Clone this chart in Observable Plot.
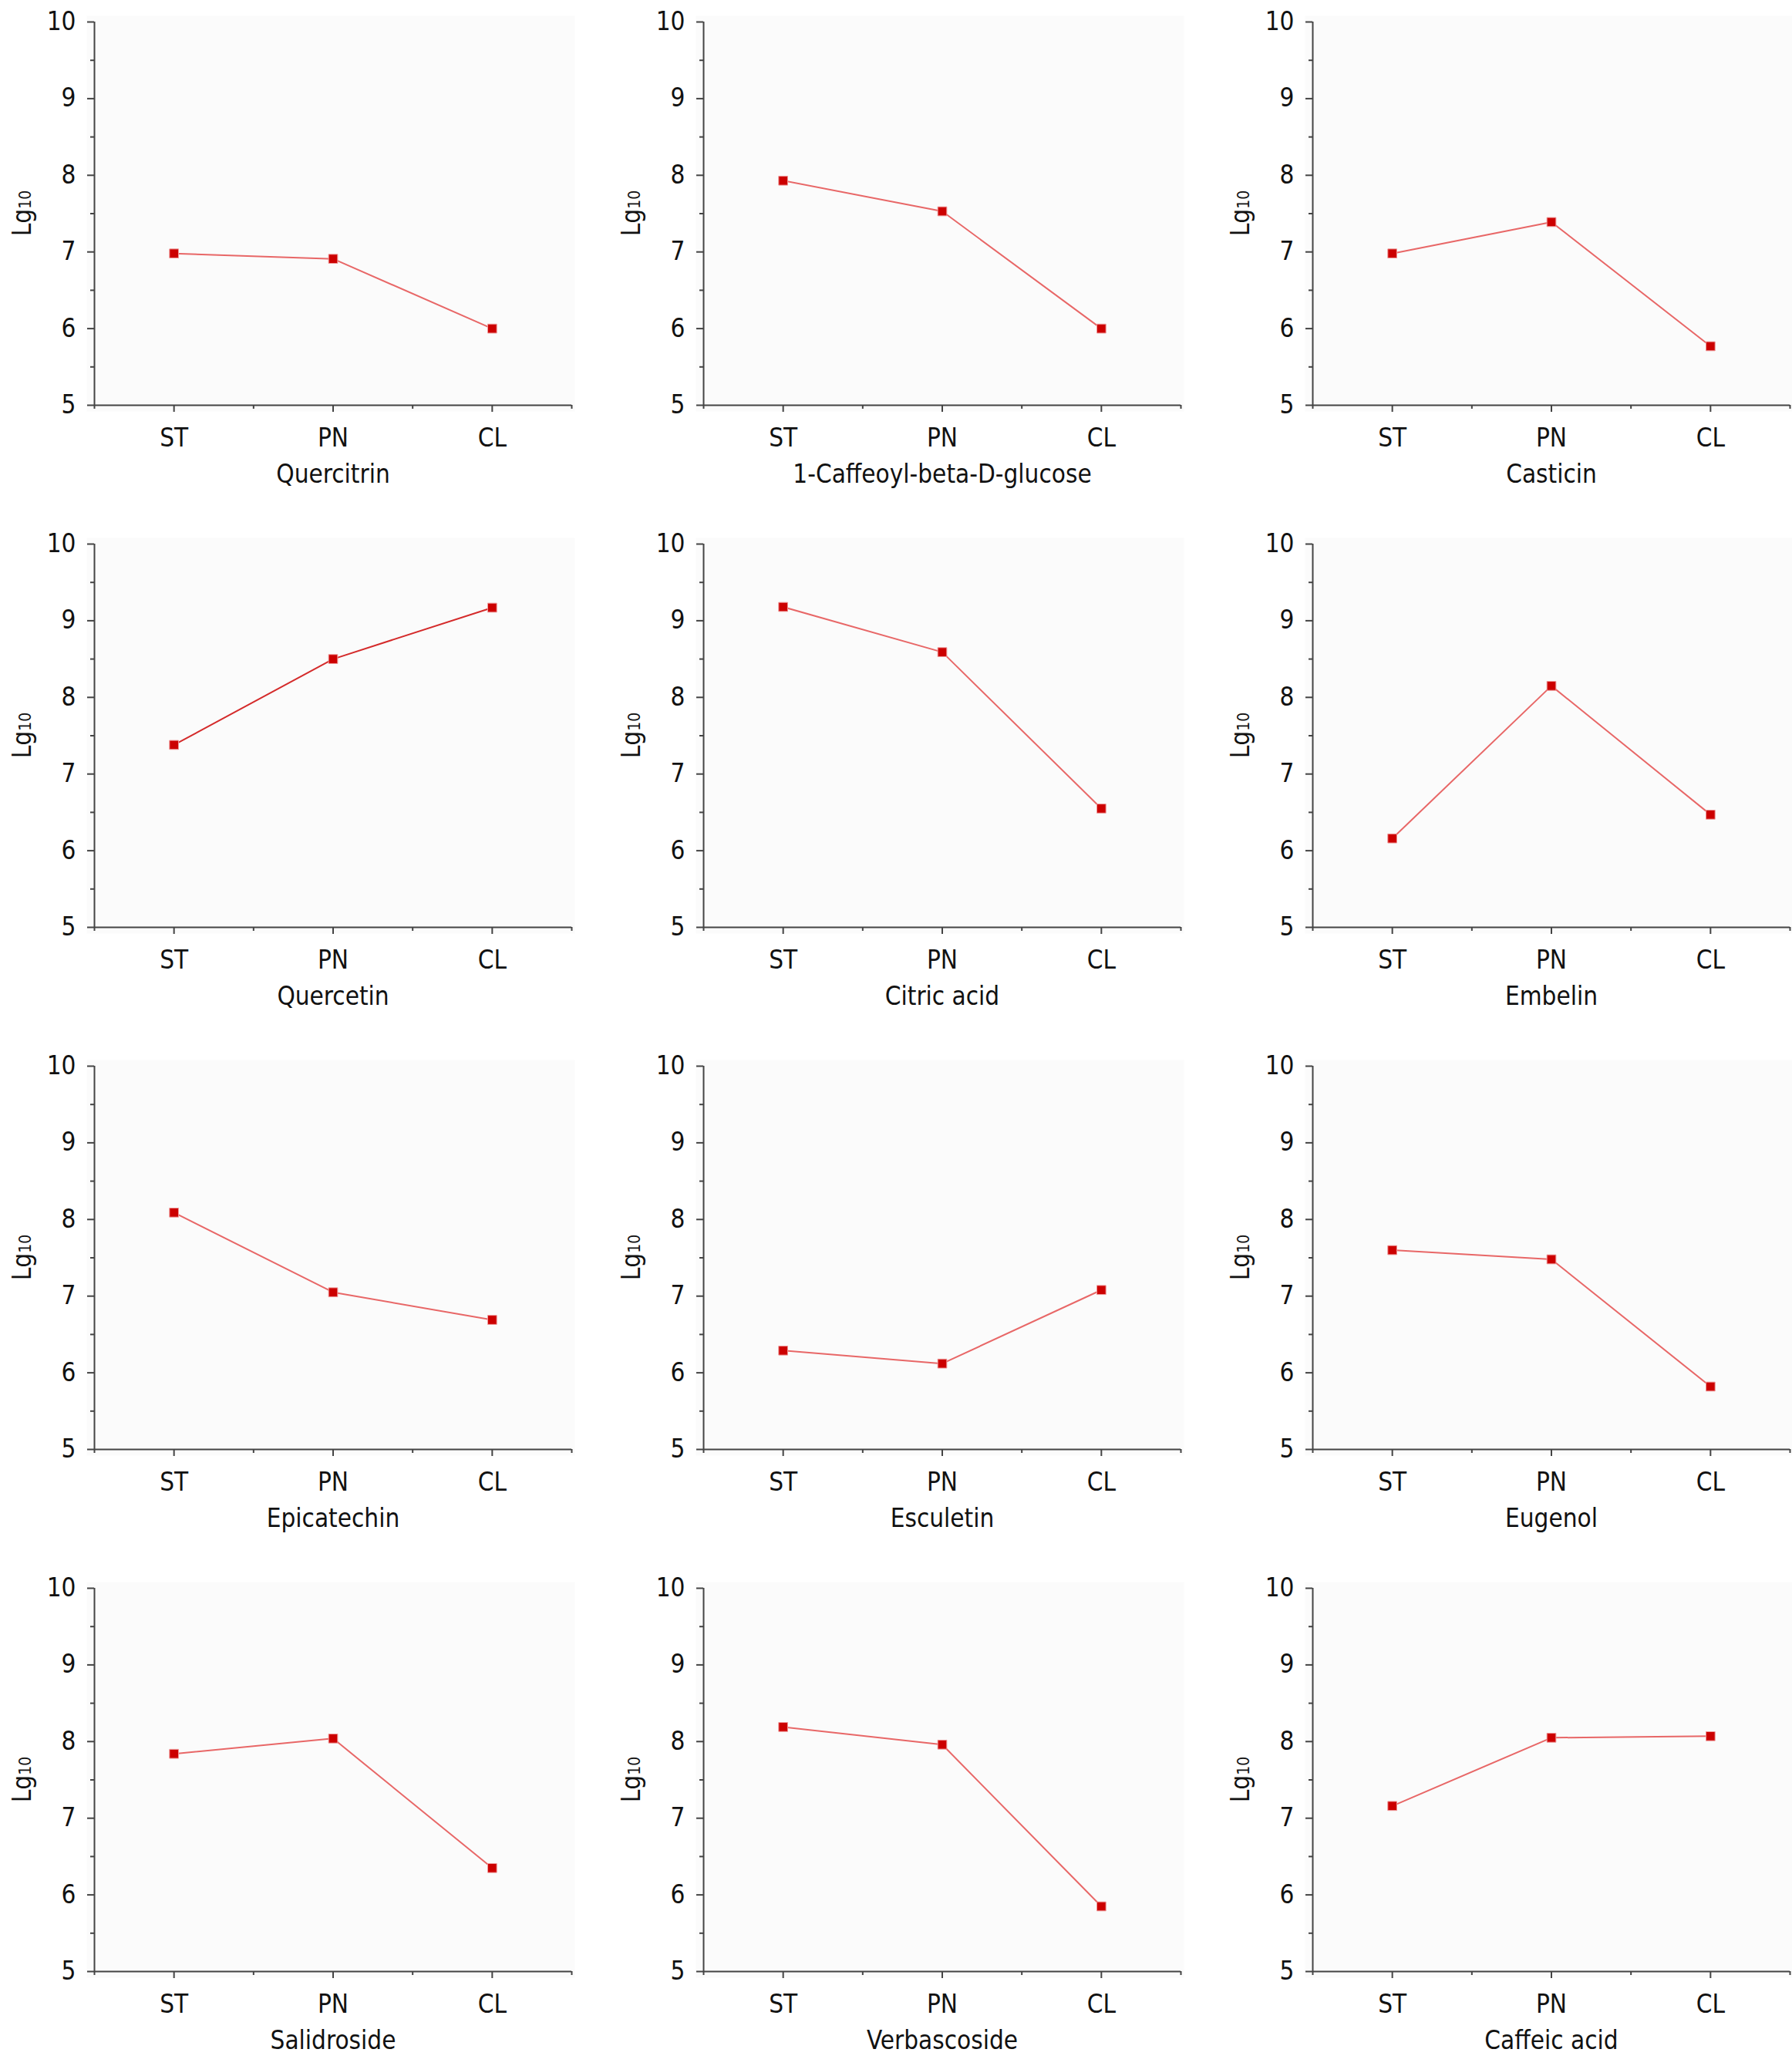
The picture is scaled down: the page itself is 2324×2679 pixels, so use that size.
<!DOCTYPE html>
<html>
<head>
<meta charset="utf-8">
<script src="https://cdn.jsdelivr.net/npm/d3@7"></script>
<script src="https://cdn.jsdelivr.net/npm/@observablehq/plot@0.6"></script>
<style>
  html, body { margin: 0; padding: 0; background: #fff; overflow: hidden; }
  #grid { position: relative; width: 2324px; height: 2679px; }
  #grid svg { position: absolute; overflow: visible; }
</style>
</head>
<body>
<div id="grid"></div>
<script>
// Sample groups along the x axis
const categories = ["ST", "PN", "CL"];

// Compounds, one panel each (row by row)
const compounds = [
  "Quercitrin", "1-Caffeoyl-beta-D-glucose", "Casticin",
  "Quercetin", "Citric acid", "Embelin",
  "Epicatechin", "Esculetin", "Eugenol",
  "Salidroside", "Verbascoside", "Caffeic acid"
];

// Lg10 content per group
const stValues = [6.98, 7.93, 6.98, 7.38, 9.18, 6.16, 8.09, 6.29, 7.60, 7.84, 8.19, 7.16];
const pnValues = [6.91, 7.53, 7.39, 8.50, 8.59, 8.15, 7.05, 6.12, 7.48, 8.04, 7.96, 8.05];
const clValues = [6.00, 6.00, 5.77, 9.17, 6.55, 6.47, 6.69, 7.08, 5.82, 6.35, 5.85, 8.07];

const yMajor = [5, 6, 7, 8, 9, 10];
const yMinor = [5.5, 6.5, 7.5, 8.5, 9.5];

const FONT = "'DejaVu Sans Condensed', 'DejaVu Sans', Tahoma, sans-serif";
const FS = 33;
const AXIS = "#444";
const COL_W = 790, ROW_H = 677;
const PLOT_W = 619, PLOT_H = 497;
const M_LEFT = 122, M_TOP = 28;

const grid = document.getElementById("grid");

compounds.forEach((name, i) => {
  const col = i % 3, row = Math.floor(i / 3);
  const width = col < 2 ? COL_W : 744;
  const values = [stValues[i], pnValues[i], clValues[i]];
  const data = categories.map((c, k) => ({k, group: c, value: values[k]}));
  const lineColor = name === "Quercetin" ? "#d42a2a" : "#e86767";

  const svg = Plot.plot({
    width,
    height: ROW_H,
    marginLeft: M_LEFT,
    marginRight: width - M_LEFT - PLOT_W,
    marginTop: M_TOP,
    marginBottom: ROW_H - M_TOP - PLOT_H,
    x: {type: "linear", domain: [-0.5, 2.5], axis: null},
    y: {domain: [5, 10], axis: null},
    style: {fontFamily: FONT, fontSize: FS + "px", color: "#111", background: "transparent", overflow: "visible"},
    marks: [
      Plot.frame({fill: "#fbfbfb", stroke: "none", insetLeft: -10, insetRight: -4, insetTop: -8, insetBottom: -8}),
      // y axis: labelled unit ticks and half-unit minor ticks
      Plot.axisY({ticks: yMajor, tickFormat: d => String(d), tickSize: 9, tickPadding: 15, stroke: AXIS, strokeWidth: 2, fill: "#111", fontSize: FS, label: null}),
      Plot.axisY({ticks: yMinor, tickSize: 5, tickFormat: () => "", stroke: AXIS, strokeWidth: 2, label: null}),
      // x axis: group ticks and boundary ticks
      Plot.axisX({ticks: [0, 1, 2], tickFormat: k => categories[k], tickSize: 9, tickPadding: 21, stroke: AXIS, strokeWidth: 2, fill: "#111", fontSize: FS, label: null}),
      Plot.axisX({ticks: [-0.5, 0.5, 1.5, 2.5], tickSize: 5, tickFormat: () => "", stroke: AXIS, strokeWidth: 2, label: null}),
      Plot.ruleY([5], {stroke: AXIS, strokeWidth: 2}),
      Plot.ruleX([-0.5], {stroke: AXIS, strokeWidth: 2}),
      Plot.line(data, {x: "k", y: "value", stroke: lineColor, strokeWidth: 2}),
      Plot.dot(data, {x: "k", y: "value", symbol: "square", r: 6.6, fill: "#cc0000", stroke: "#ef9a9a", strokeWidth: 1}),
      Plot.text([name], {frameAnchor: "bottom", dy: 90, lineAnchor: "middle", fontSize: FS, fill: "#111"})
    ]
  });

  // rotated "Lg10" y-axis title with the small 10
  const t = d3.select(svg).append("text")
    .attr("transform", `translate(40, ${M_TOP + PLOT_H / 2}) rotate(-90)`)
    .attr("text-anchor", "middle")
    .attr("fill", "#111")
    .style("font-family", FONT);
  t.append("tspan").attr("font-size", FS).text("Lg");
  t.append("tspan").attr("font-size", 21).text("10");

  svg.style.left = (col * COL_W) + "px";
  svg.style.top = (row * ROW_H) + "px";
  grid.appendChild(svg);
});
</script>
</body>
</html>
